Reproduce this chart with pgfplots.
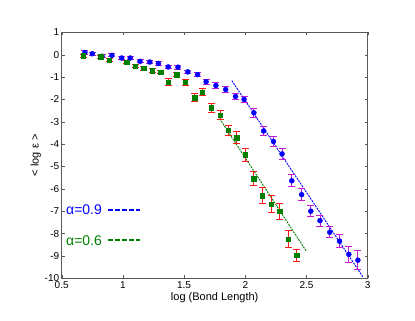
\documentclass[border=0pt]{standalone}
\usepackage{pgfplots}
\pgfplotsset{compat=1.18}
\usepackage{fontspec}
\setmainfont{Liberation Sans}

\definecolor{mblue}{rgb}{0,0,1}
\definecolor{mgreen}{rgb}{0,0.5,0}
\definecolor{mmag}{rgb}{0.78,0.1,0.82}
\definecolor{mred}{rgb}{1,0.1,0.1}
\definecolor{axgray}{gray}{0.35}

% x  y  err
\pgfplotstableread{
x y e
0.69 0.10 0.07
0.75 0.04 0.06
0.83 -0.07 0.06
0.91 -0.03 0.07
0.99 -0.15 0.07
1.06 -0.15 0.07
1.14 -0.30 0.07
1.22 -0.33 0.07
1.29 -0.39 0.08
1.37 -0.55 0.08
1.45 -0.56 0.08
1.53 -0.77 0.08
1.61 -0.89 0.09
1.68 -1.21 0.12
1.76 -1.38 0.12
1.84 -1.56 0.13
1.92 -1.87 0.15
1.99 -2.00 0.15
2.07 -2.60 0.20
2.15 -3.41 0.21
2.23 -3.88 0.21
2.30 -4.44 0.23
2.38 -5.64 0.27
2.46 -6.26 0.27
2.535 -7.00 0.25
2.61 -7.42 0.24
2.69 -7.94 0.24
2.77 -8.34 0.28
2.846 -8.93 0.34
2.92 -9.19 0.42
}\blue

\pgfplotstableread{
x y e
0.675 -0.05 0.06
0.82 -0.09 0.06
0.89 -0.24 0.06
1.03 -0.34 0.07
1.10 -0.52 0.07
1.17 -0.61 0.08
1.24 -0.71 0.08
1.31 -0.78 0.08
1.37 -1.23 0.15
1.44 -0.89 0.10
1.51 -1.24 0.12
1.585 -1.93 0.18
1.65 -1.67 0.15
1.72 -2.37 0.21
1.795 -2.70 0.19
1.86 -3.38 0.22
1.93 -3.71 0.26
2.00 -4.48 0.30
2.07 -5.55 0.32
2.14 -6.30 0.35
2.21 -6.68 0.37
2.28 -7.01 0.34
2.35 -8.24 0.36
2.42 -8.98 0.27
}\green

\begin{document}
\begin{tikzpicture}
\begin{axis}[
    at={(0,0)}, anchor=south west,
    scale only axis,
    width=306pt, height=246pt,
    xmin=0.5, xmax=3, ymin=-10, ymax=1,
    xtick={0.5,1,...,3},
    ytick={-10,-9,...,1},
    tick align=inside,
    major tick length=3pt,
    axis line style={axgray, line width=0.7pt},
    tick style={axgray},
    ticklabel style={font=\fontsize{10}{12}\selectfont},
    /pgf/number format/assume math mode=true,
    xticklabel style={yshift=0pt},
    yticklabel style={xshift=1pt},
    xlabel={log (Bond Length)},
    ylabel={< log ε >},
    xlabel style={font=\fontsize{11}{13}\selectfont, yshift=3pt},
    ylabel style={font=\fontsize{11}{13}\selectfont, yshift=-3pt},
    clip=false,
]
% fits
\addplot[mblue, line width=0.9pt, dash pattern=on 2pt off 1pt] coordinates {(1.89,-1.16) (2.96,-9.93)};
\addplot[mgreen, line width=0.9pt, dash pattern=on 2pt off 1pt] coordinates {(1.79,-2.86) (2.5,-8.8)};

\addplot[only marks, mark=*, mark size=2.5pt, mark options={mblue},
    error bars/.cd, y dir=both, y explicit,
    error bar style={mmag, line width=0.9pt},
    error mark options={rotate=90, mmag, mark size=3.5pt, line width=0.9pt}]
  table[x=x, y=y, y error=e] {\blue};
\addplot[only marks, mark=square*, mark size=2.2pt, mark options={mgreen},
    error bars/.cd, y dir=both, y explicit,
    error bar style={mred, line width=0.9pt},
    error mark options={rotate=90, mred, mark size=3.5pt, line width=0.9pt}]
  table[x=x, y=y, y error=e] {\green};

\node[anchor=west, text=mblue, font=\fontsize{14}{16}\selectfont, inner sep=0pt] at (axis cs:0.535,-6.93) {α=0.9};
\draw[color=mblue, line width=1.8pt, dash pattern=on 5pt off 2.2pt] (axis cs:0.875,-6.93) -- (axis cs:1.14,-6.93);
\node[anchor=west, text=mgreen, font=\fontsize{14}{16}\selectfont, inner sep=0pt] at (axis cs:0.535,-8.3) {α=0.6};
\draw[color=mgreen, line width=1.8pt, dash pattern=on 5pt off 2.2pt] (axis cs:0.875,-8.3) -- (axis cs:1.14,-8.3);
\end{axis}
\useasboundingbox (-61.7pt,-42.7pt) rectangle (353.3pt,278.3pt);
\end{tikzpicture}
\end{document}
